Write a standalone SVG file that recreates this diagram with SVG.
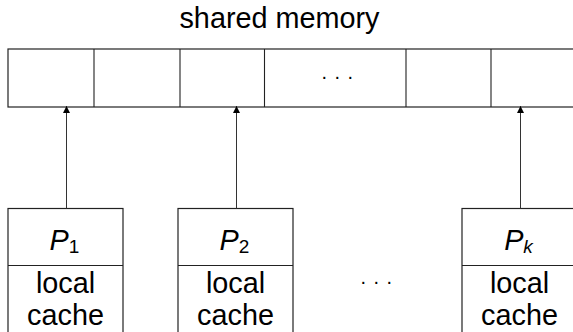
<svg xmlns="http://www.w3.org/2000/svg" width="573" height="332" viewBox="0 0 573 332">
<style>
text{font-family:"Liberation Sans",Arial,sans-serif;fill:#000}
.lbl{font-size:28.8px;text-anchor:middle}
.box{fill:#fff;stroke:#222;stroke-width:1.2}
.ln{stroke:#222;stroke-width:1.1;fill:none}
.conn{stroke:#333;stroke-width:1;fill:none}
.dots{font-size:20px}
</style>
<defs>
<marker id="ah" viewBox="0 0 10 10" refX="10" refY="5" markerWidth="9" markerHeight="7" markerUnits="userSpaceOnUse" orient="auto">
<path d="M0,0 L10,5 L0,10 Z" fill="#000"/>
</marker>
</defs>
<rect width="573" height="332" fill="#fff"/>
<text class="lbl" x="279.5" y="28">shared memory</text>
<g id="memory">
<rect class="box" x="8" y="49" width="575" height="58"/>
<path class="ln" d="M94,49V107M180,49V107M264.5,49V107M406,49V107M491,49V107"/>
<text class="dots" x="321.5 334.5 347.5" y="79">...</text>
</g>
<g id="P1">
<rect class="box" x="8" y="208.5" width="115" height="140"/>
<path class="ln" d="M8,265.5H123"/>
<text class="lbl" x="64.5" y="250"><tspan font-style="italic">P</tspan><tspan font-size="19" dy="3">1</tspan></text>
<text class="lbl" x="65.5" y="293">local</text>
<text class="lbl" x="65.5" y="325">cache</text>
</g>
<g id="P2">
<rect class="box" x="178" y="208.5" width="115" height="140"/>
<path class="ln" d="M178,265.5H293"/>
<text class="lbl" x="234.5" y="250"><tspan font-style="italic">P</tspan><tspan font-size="19" dy="3">2</tspan></text>
<text class="lbl" x="235.5" y="293">local</text>
<text class="lbl" x="235.5" y="325">cache</text>
</g>
<g id="Pk">
<rect class="box" x="462" y="208.5" width="115" height="140"/>
<path class="ln" d="M462,265.5H577"/>
<text class="lbl" x="518.5" y="250"><tspan font-style="italic">P</tspan><tspan font-size="19" dy="3" font-style="italic">k</tspan></text>
<text class="lbl" x="519.5" y="293">local</text>
<text class="lbl" x="519.5" y="325">cache</text>
</g>
<text class="dots" x="360.5 373.5 386.5" y="284">...</text>
<g id="connectors">
<line class="conn" x1="66.5" y1="208.5" x2="66.5" y2="106" marker-end="url(#ah)"/>
<line class="conn" x1="236.5" y1="208.5" x2="236.5" y2="106" marker-end="url(#ah)"/>
<line class="conn" x1="520.5" y1="208.5" x2="520.5" y2="106" marker-end="url(#ah)"/>
</g>
</svg>
